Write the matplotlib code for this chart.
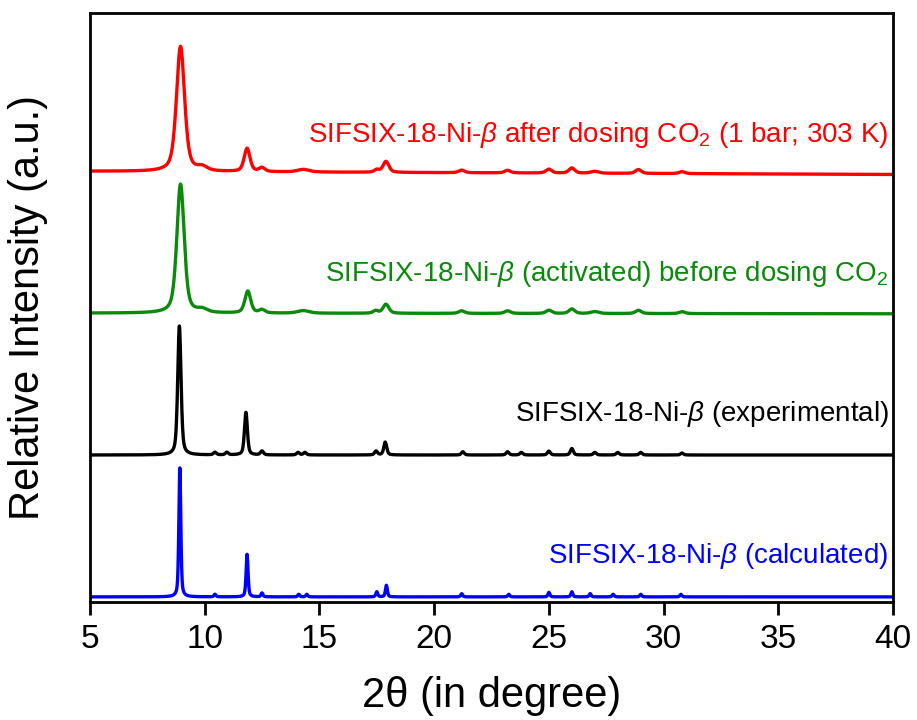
import numpy as np
import matplotlib
matplotlib.use('Agg')
import matplotlib.pyplot as plt

plt.rcParams['font.family'] = ['Liberation Sans', 'DejaVu Sans']
plt.rcParams['mathtext.fontset'] = 'custom'
plt.rcParams['mathtext.rm'] = 'Liberation Sans'
plt.rcParams['mathtext.it'] = 'Liberation Sans:italic'

# 峰位 (2θ), 相对强度, 半高宽 —— 从原图读取
calc_pos = [8.92, 10.45, 11.85, 12.5, 14.1, 14.45, 17.5, 17.92, 21.2, 23.25, 25.0, 26.0, 26.8, 27.8, 29.0, 30.75]
calc_int = [1.0, 0.02, 0.33, 0.03, 0.02, 0.02, 0.04, 0.09, 0.025, 0.02, 0.035, 0.04, 0.025, 0.02, 0.02, 0.02]
calc_fwhm = [0.10, 0.1, 0.1, 0.1, 0.1, 0.1, 0.1, 0.1, 0.1, 0.1, 0.1, 0.1, 0.1, 0.1, 0.1, 0.1]

exp_pos = [8.9, 10.45, 10.97, 11.8, 12.5, 14.07, 14.37, 17.47, 17.87, 21.25, 23.2, 23.8, 25.0, 26.0, 27.0, 28.0, 29.0, 30.8]
exp_int = [1.0, 0.02, 0.02, 0.33, 0.03, 0.02, 0.02, 0.03, 0.1, 0.025, 0.025, 0.02, 0.03, 0.05, 0.02, 0.02, 0.02, 0.015]
exp_fwhm = [0.17, 0.15, 0.15, 0.15, 0.15, 0.15, 0.15, 0.15, 0.15, 0.15, 0.15, 0.15, 0.15, 0.15, 0.15, 0.15, 0.15, 0.15]

act_pos = [8.95, 9.9, 11.88, 12.5, 14.3, 17.45, 17.9, 21.2, 23.2, 25.0, 26.0, 27.0, 28.9, 30.8]
act_int = [1.0, 0.025, 0.17, 0.025, 0.02, 0.02, 0.07, 0.02, 0.02, 0.025, 0.035, 0.015, 0.025, 0.015]
act_fwhm = [0.38, 0.5, 0.3, 0.3, 0.6, 0.25, 0.3, 0.3, 0.3, 0.3, 0.3, 0.4, 0.3, 0.3]

dos_pos = [8.95, 9.9, 11.85, 12.5, 14.3, 17.5, 17.9, 21.2, 23.2, 25.0, 26.0, 27.0, 28.9, 30.8]
dos_int = [0.97, 0.03, 0.18, 0.03, 0.02, 0.02, 0.085, 0.02, 0.02, 0.03, 0.04, 0.015, 0.03, 0.015]
dos_fwhm = [0.42, 0.5, 0.3, 0.3, 0.6, 0.25, 0.3, 0.3, 0.3, 0.3, 0.3, 0.4, 0.3, 0.3]

offsets = [0.0, 1.1, 2.2, 3.3]
drift = [0.0, 0.0, -0.005, -0.025]   # 基线从左到右的漂移
colors = ['#0000ff', '#000000', '#0a8a0a', '#ff0000']
labels = ['SIFSIX-18-Ni-$\\beta$ (calculated)',
          'SIFSIX-18-Ni-$\\beta$ (experimental)',
          'SIFSIX-18-Ni-$\\beta$ (activated) before dosing CO$_2$',
          'SIFSIX-18-Ni-$\\beta$ after dosing CO$_2$ (1 bar; 303 K)']
label_y = [0.32, 1.42, 2.50, 3.58]

peaks = [(calc_pos, calc_int, calc_fwhm), (exp_pos, exp_int, exp_fwhm),
         (act_pos, act_int, act_fwhm), (dos_pos, dos_int, dos_fwhm)]

x = np.arange(5.0, 40.0001, 0.01)


def profile(pos, inten, fwhm):
    y = np.zeros_like(x)
    for p, h, w in zip(pos, inten, fwhm):
        g = np.exp(-4 * np.log(2) * ((x - p) / w) ** 2)
        l = 1.0 / (1.0 + 4 * ((x - p) / w) ** 2)
        y += h * (0.5 * g + 0.5 * l)
    return y


fig = plt.figure(figsize=(9.17, 7.2), dpi=100)
ax = fig.add_axes([0.098, 0.164, 0.876, 0.818])

for (pos, inten, fwhm), off, d, c, lab, ly in zip(peaks, offsets, drift, colors, labels, label_y):
    y = profile(pos, inten, fwhm)
    base = off + d * (x - 5) / 35
    ax.plot(x, y + base, color=c, lw=2.4)
    ax.text(39.8, ly, lab, color=c, fontsize=20, ha='right', va='center')

ax.set_xlim(5, 40)
ax.set_ylim(-0.039, 4.527)
ax.set_xticks([5, 10, 15, 20, 25, 30, 35, 40])
ax.set_yticks([])
ax.tick_params(axis='x', direction='out', length=9, width=2, labelsize=24, pad=7)
for s in ax.spines.values():
    s.set_linewidth(2)

ax.set_xlabel('2θ (in degree)', fontsize=30, labelpad=15)
ax.set_ylabel('Relative Intensity (a.u.)', fontsize=30, labelpad=30)

fig.savefig('out.png', dpi=100)
